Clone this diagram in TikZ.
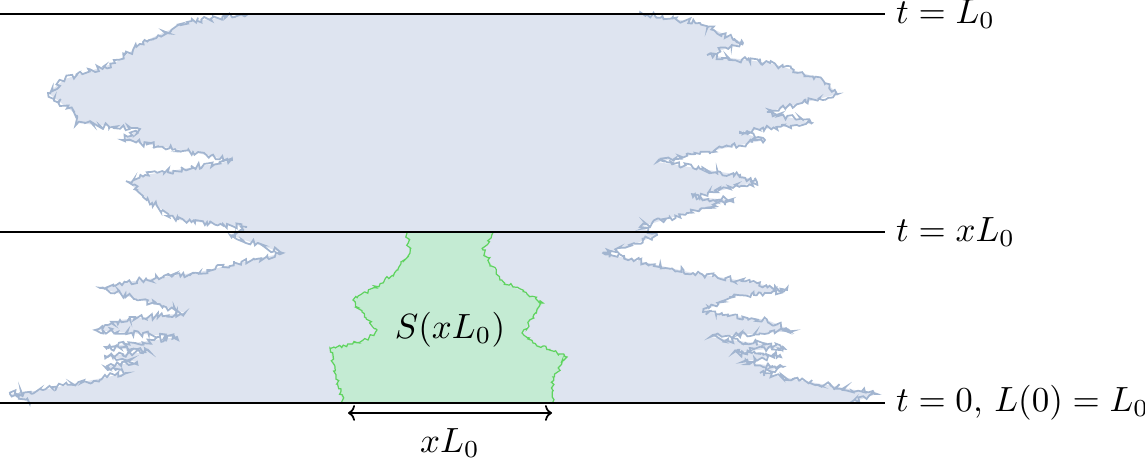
\documentclass[tikz,border=0pt]{standalone}
\usetikzlibrary{decorations.pathmorphing,arrows.meta}
\definecolor{bluefill}{HTML}{DEE4F0}
\definecolor{blueedge}{HTML}{A2B5D0}
\definecolor{greenfill}{HTML}{C4EBD3}
\definecolor{greenedge}{HTML}{5FD35F}
\tikzset{
  blueline/.style={draw=blueedge,line width=0.5pt,decorate,decoration={random steps,segment length=0.7pt,amplitude=0.9pt}},
  greenline/.style={draw=greenedge,line width=0.35pt,decorate,decoration={random steps,segment length=0.7pt,amplitude=0.6pt}},
  level/.style={draw=black,line width=0.6pt},
  lab/.style={anchor=west,inner sep=3pt,font=\normalsize}
}
\begin{document}
\begin{tikzpicture}[x=0.2857pt,y=-0.2857pt]
\useasboundingbox (0,0) rectangle (1145,458);
\pgfmathsetseed{4242}
% blue region
\fill[bluefill] (248,14) -- (187,22) -- (143,42) -- (133,50) -- (115,63) -- (65,79) -- (48,93) -- (77,115) -- (76,123) -- (140,129) -- (122,140) -- (193,152) -- (232,161) -- (145,175) -- (128,182) -- (137,190) -- (152,203) -- (178,220) -- (247,227) -- (230,235) -- (283,253) -- (200,272) -- (127,282) -- (100,288) -- (185,313) -- (120,320) -- (95,330) -- (177,337) -- (105,347) -- (150,352) -- (105,356) -- (137,362) -- (105,367) -- (127,373) -- (43,390) -- (10,394) -- (30,403)
 -- (850,403) -- (877,394) -- (760,373) -- (783,367) -- (742,362) -- (780,355) -- (733,353) -- (783,347) -- (710,337) -- (793,331) -- (767,320) -- (703,312) -- (730,297) -- (787,290) -- (750,282) -- (693,273) -- (603,253) -- (627,247) -- (657,235) -- (640,227) -- (687,213) -- (733,200) -- (693,197) -- (757,182) -- (740,175) -- (657,162) -- (765,140) -- (740,132) -- (812,123) -- (767,112) -- (838,94) -- (822,79) -- (770,63) -- (707,55) -- (743,43) -- (700,23) -- (640,14) -- cycle;
\draw[blueline] (248,14) -- (187,22) -- (143,42) -- (133,50) -- (115,63) -- (65,79) -- (48,93) -- (77,115) -- (76,123) -- (140,129) -- (122,140) -- (193,152) -- (232,161) -- (145,175) -- (128,182) -- (137,190) -- (152,203) -- (178,220) -- (247,227) -- (230,235) -- (283,253) -- (200,272) -- (127,282) -- (100,288) -- (185,313) -- (120,320) -- (95,330) -- (177,337) -- (105,347) -- (150,352) -- (105,356) -- (137,362) -- (105,367) -- (127,373) -- (43,390) -- (10,394) -- (30,403);
\draw[blueline] (850,403) -- (877,394) -- (760,373) -- (783,367) -- (742,362) -- (780,355) -- (733,353) -- (783,347) -- (710,337) -- (793,331) -- (767,320) -- (703,312) -- (730,297) -- (787,290) -- (750,282) -- (693,273) -- (603,253) -- (627,247) -- (657,235) -- (640,227) -- (687,213) -- (733,200) -- (693,197) -- (757,182) -- (740,175) -- (657,162) -- (765,140) -- (740,132) -- (812,123) -- (767,112) -- (838,94) -- (822,79) -- (770,63) -- (707,55) -- (743,43) -- (700,23) -- (640,14);
% green region
\fill[greenfill] (407,233) -- (410,253) -- (397,270) -- (383,283) -- (353,300) -- (362,312) -- (377,330) -- (368,340) -- (330,348) -- (333,363) -- (343,403)
 -- (553,403) -- (553,377) -- (567,357) -- (533,343) -- (522,333) -- (533,317) -- (543,303) -- (513,287) -- (500,280) -- (483,250) -- (493,233) -- cycle;
\draw[greenline] (407,233) -- (410,253) -- (397,270) -- (383,283) -- (353,300) -- (362,312) -- (377,330) -- (368,340) -- (330,348) -- (333,363) -- (343,403);
\draw[greenline] (553,403) -- (553,377) -- (567,357) -- (533,343) -- (522,333) -- (533,317) -- (543,303) -- (513,287) -- (500,280) -- (483,250) -- (493,233);
% level lines
\coordinate (t1a) at (0,14);   \coordinate (t1b) at (885,14);
\coordinate (t2a) at (0,232);  \coordinate (t2b) at (885,232);
\coordinate (t3a) at (0,403);  \coordinate (t3b) at (885,403);
\draw[level] (t1a) -- (t1b);
\draw[level] (t2a) -- (t2b);
\draw[level] (t3a) -- (t3b);
\node[lab] (l1) at (t1b) {$t=L_0$};
\node[lab] (l2) at (t2b) {$t=xL_0$};
\node[lab] (l3) at (t3b) {$t=0,\,L(0)=L_0$};
% S label
\node (S) at (450,330) {$S(xL_0)$};
% width arrow
\coordinate (wa) at (348,413);
\coordinate (wb) at (552,413);
\draw[{To[length=2pt,width=4.5pt]}-{To[length=2pt,width=4.5pt]},line width=0.5pt] (wa) -- (wb);
\node (w) at (450,443) {$xL_0$};
\end{tikzpicture}
\end{document}
